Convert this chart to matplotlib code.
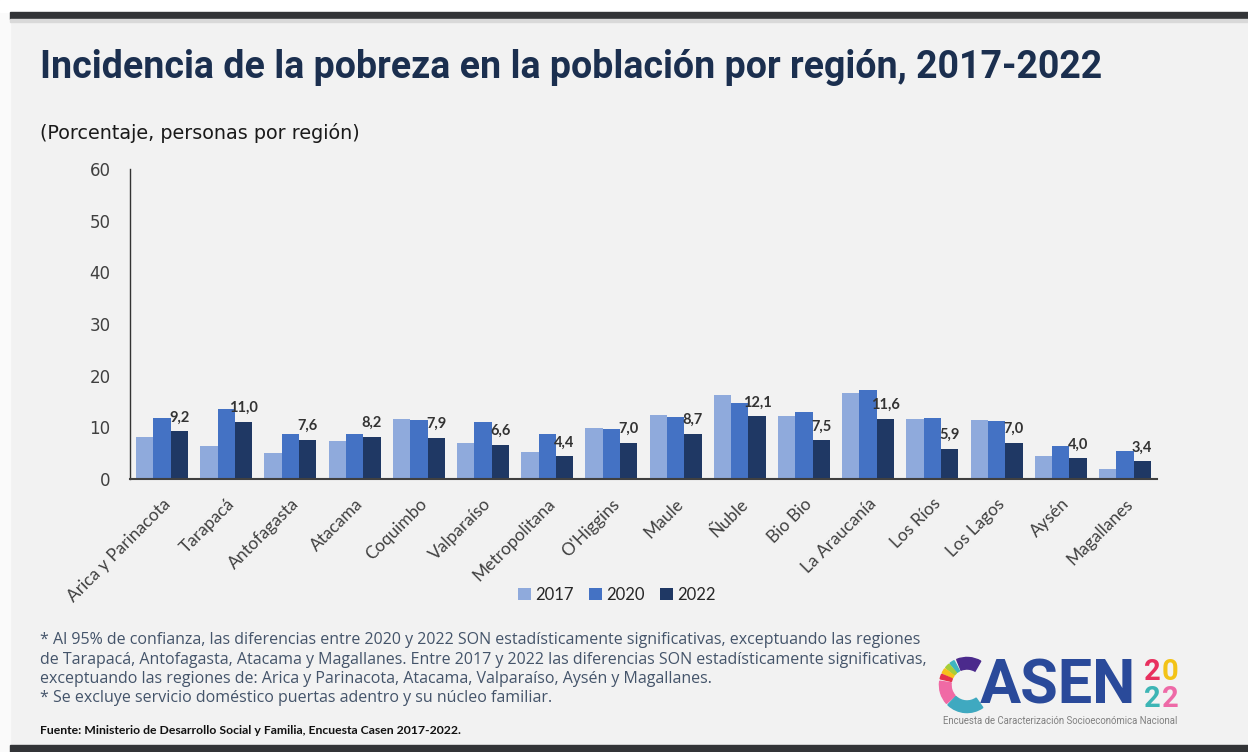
import matplotlib
matplotlib.use("Agg")
from matplotlib import pyplot as plt
from matplotlib.patches import Rectangle, Wedge
import numpy as np

regiones = ["Arica y Parinacota", "Tarapacá", "Antofagasta", "Atacama", "Coquimbo",
            "Valparaíso", "Metropolitana", "O'Higgins", "Maule", "Ñuble", "Bio Bio",
            "La Araucanía", "Los Ríos", "Los Lagos", "Aysén", "Magallanes"]
anios = ["2017", "2020", "2022"]
v2017 = [8.1, 6.4, 5.0, 7.4, 11.7, 7.0, 5.3, 9.8, 12.4, 16.2, 12.1, 16.7, 11.7, 11.4, 4.4, 1.9]
v2020 = [11.9, 13.5, 8.7, 8.7, 11.5, 11.0, 8.7, 9.6, 12.0, 14.8, 12.9, 17.2, 11.9, 11.3, 6.3, 5.4]
v2022 = [9.2, 11.0, 7.6, 8.2, 7.9, 6.6, 4.4, 7.0, 8.7, 12.1, 7.5, 11.6, 5.9, 7.0, 4.0, 3.4]
colores = ["#8faadc", "#4472c4", "#1f3864"]

W, H = 1248, 752
fig = plt.figure(figsize=(W / 100, H / 100), dpi=100, facecolor="#f2f2f2")

# marco de la diapositiva
fig.patches.append(Rectangle((0, 0), 10 / W, 1, transform=fig.transFigure, color="#fafafa", zorder=0))
fig.patches.append(Rectangle((0, 1 - 12 / H), 1, 12 / H, transform=fig.transFigure, color="white", zorder=0))
fig.patches.append(Rectangle((10 / W, 1 - 19 / H), 1, 7 / H, transform=fig.transFigure, color="#323437", zorder=1))
fig.patches.append(Rectangle((10 / W, 1 - 22 / H), 1, 3 / H, transform=fig.transFigure, color="#d9d9d9", zorder=1))
fig.patches.append(Rectangle((10 / W, 0), 1, 7 / H, transform=fig.transFigure, color="#323437", zorder=1))

fig.text(40 / W, 1 - 67 / H, "Incidencia de la pobreza en la población por región, 2017-2022",
         family="Roboto", weight="bold", fontsize=27, color="#1b2f4f", va="center")
fig.text(40 / W, 1 - 133 / H, "(Porcentaje, personas por región)",
         family="DejaVu Sans", fontsize=13.8, color="#1a1a1a", va="center")

ax = fig.add_axes([130 / W, 273 / H, 1027 / W, 310 / H])
ax.set_facecolor("none")
x = np.arange(len(regiones))
bw = 0.27
series = [v2017, v2020, v2022]
barras = []
for i, (vals, c) in enumerate(zip(series, colores)):
    b = ax.bar(x + (i - 1) * bw, vals, bw, color=c, label=anios[i], zorder=2)
    barras.append(b)

for xi, v in zip(x, v2022):
    ax.annotate(f"{v:.1f}".replace(".", ","), (xi + bw, v), xytext=(0, 5), textcoords="offset points",
                ha="center", va="bottom", family="Lato", weight="bold", fontsize=10.5, color="#333333")

ax.set_xlim(-0.5, len(regiones) - 0.5)
ax.set_ylim(0, 60)
ax.set_yticks(range(0, 61, 10))
ax.tick_params(axis="y", length=0, pad=14, labelsize=12, labelcolor="#404040")
for lbl in ax.get_yticklabels():
    lbl.set_family("DejaVu Sans")
ax.set_xticks(x)
ax.set_xticklabels(regiones, rotation=45, ha="right", va="top", rotation_mode="anchor",
                   family="Lato", fontsize=12.5, color="#404040")
ax.tick_params(axis="x", length=0, pad=12)
for s in ["top", "right"]:
    ax.spines[s].set_visible(False)
ax.spines["left"].set_color("#333333")
ax.spines["left"].set_linewidth(1.0)
ax.spines["bottom"].set_color("#404040")
ax.spines["bottom"].set_linewidth(1.5)

fig.legend(handles=barras, labels=anios, loc="center", bbox_to_anchor=(617 / W, 1 - 595 / H),
           ncol=3, frameon=False, prop={"family": "Lato", "size": 12},
           handlelength=0.75, handleheight=0.75, handletextpad=0.3, columnspacing=0.9,
           labelcolor="#262626")

notas = ["* Al 95% de confianza, las diferencias entre 2020 y 2022 SON estadísticamente significativas, exceptuando las regiones",
         "de Tarapacá, Antofagasta, Atacama y Magallanes. Entre 2017 y 2022 las diferencias SON estadísticamente significativas,",
         "exceptuando las regiones de: Arica y Parinacota, Atacama, Valparaíso, Aysén y Magallanes.",
         "* Se excluye servicio doméstico puertas adentro y su núcleo familiar."]
for k, t in enumerate(notas):
    fig.text(40 / W, 1 - (640 + k * 19.5) / H, t, family="Open Sans", fontsize=11.5,
             color="#44546a", va="center")
fig.text(40 / W, 1 - 730 / H, "Fuente: Ministerio de Desarrollo Social y Familia, Encuesta Casen 2017-2022.",
         family="Lato", weight="bold", fontsize=8.8, color="#111111", va="center")

# logo CASEN 2022
lax = fig.add_axes([938 / W, 1 - 714 / H, 58 / W, 58 / H])
lax.set_xlim(-1, 1)
lax.set_ylim(-1, 1)
lax.set_aspect("equal")
lax.axis("off")
arcos = [(60, 112, "#4b2a8c"), (118, 128, "#3fb5c1"), (131, 141, "#a6ce39"),
         (144, 154, "#f7c11a"), (157, 167, "#e5334b"), (172, 222, "#f06aa5"), (226, 305, "#3fa9c0")]
for a0, a1, c in arcos:
    lax.add_patch(Wedge((0, 0), 0.95, a0, a1, width=0.4, color=c))
fig.text(980 / W, 1 - 686 / H, "ASEN", family="Roboto", weight="bold", fontsize=44,
         color="#2a4a9a", va="center", ha="left")
for txt, cx, cy, c in [("2", 1144, 672, "#e8305e"), ("0", 1162, 672, "#f3c317"),
                       ("2", 1144, 699, "#3db5b5"), ("2", 1162, 699, "#ee6aa7")]:
    fig.text(cx / W, 1 - cy / H, txt, family="Roboto", weight="bold", fontsize=21, color=c, va="center")
fig.text(943 / W, 1 - 721 / H, "Encuesta de Caracterización Socioeconómica Nacional",
         family="Roboto", fontsize=6.9, color="#808080", va="center")

fig.savefig("out.png", dpi=100, facecolor=fig.get_facecolor())
